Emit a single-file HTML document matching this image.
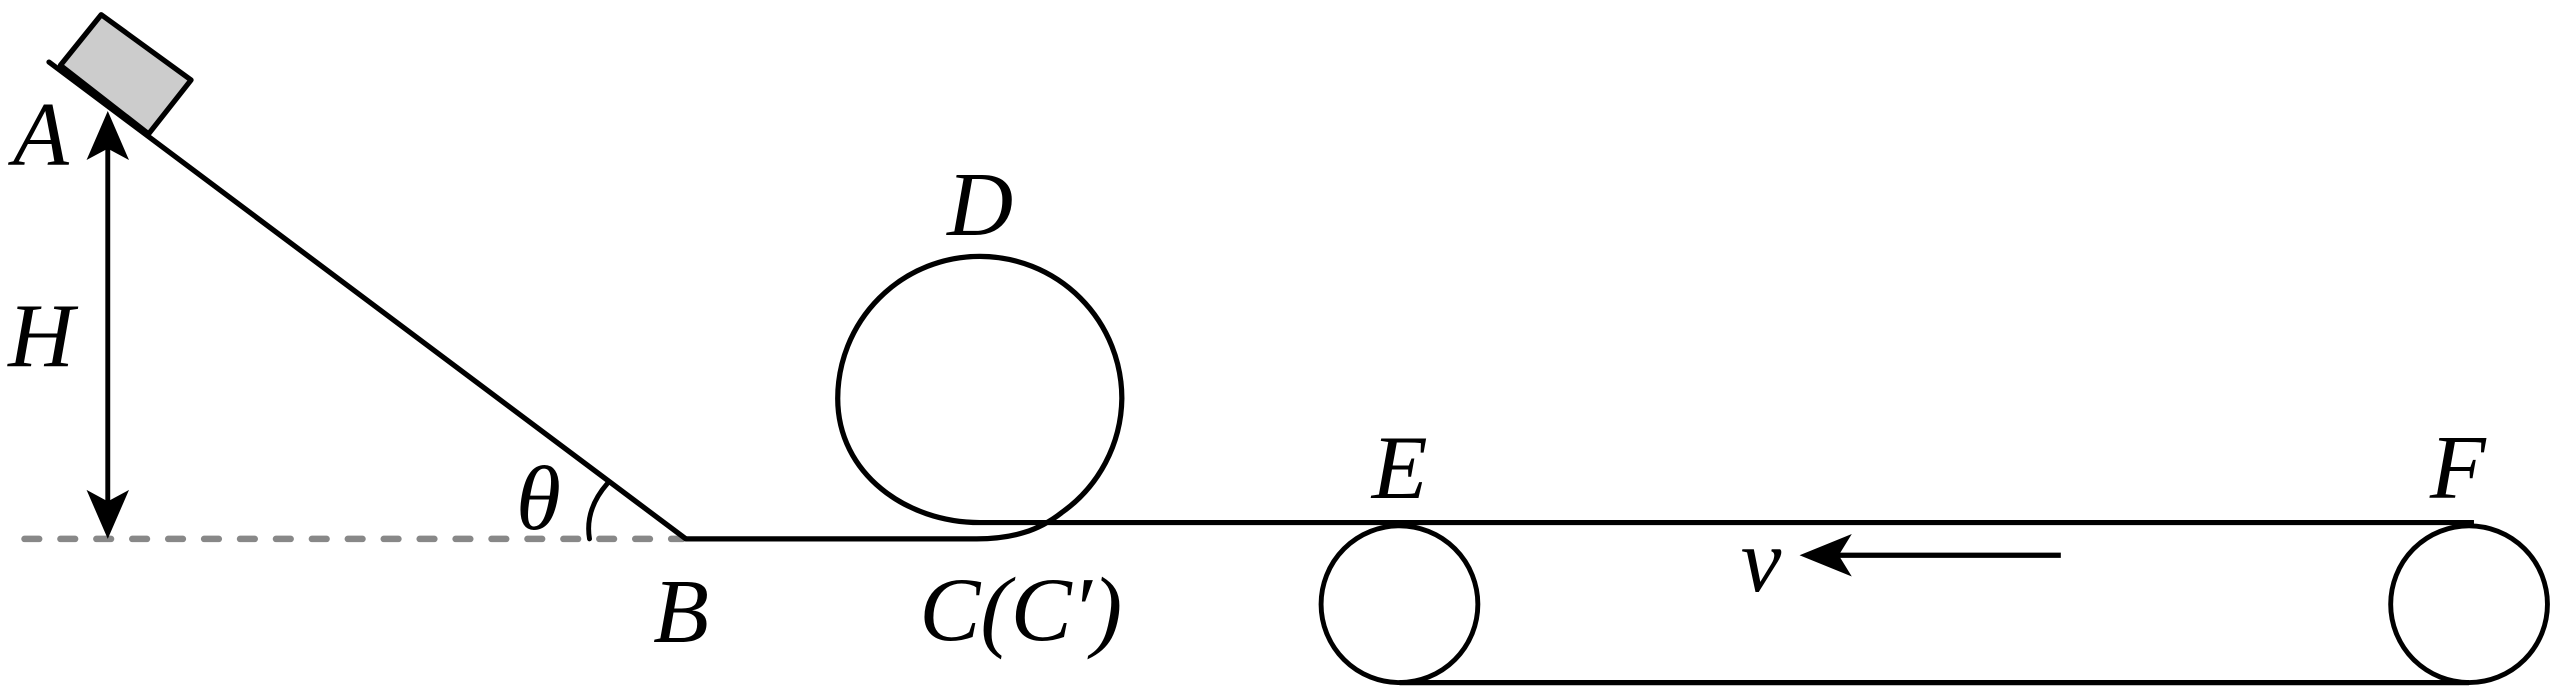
<!DOCTYPE html>
<html><head><meta charset="utf-8"><style>
html,body{margin:0;padding:0;background:#fff;}
svg{display:block;}
text{font-family:"Liberation Serif",serif;font-style:italic;font-size:56px;fill:#000;}
</style></head><body>
<svg width="2553" height="695" viewBox="0 0 1563.4 425.6" preserveAspectRatio="none" xmlns="http://www.w3.org/2000/svg">
<line x1="15" y1="330" x2="418" y2="330" stroke="#888" stroke-width="4" stroke-linecap="round" stroke-dasharray="9 13"/>
<polygon points="37,40 62,9 117,49 91,82" fill="#ccc" stroke="#000" stroke-width="3.2" stroke-linejoin="round"/>
<line x1="30" y1="38" x2="420" y2="330" stroke="#000" stroke-width="3.2" stroke-linecap="round"/>
<line x1="66" y1="90" x2="66" y2="308" stroke="#000" stroke-width="3"/>
<polygon points="66,68 79,98 66,91 53,98" fill="#000"/>
<polygon points="66,330 79,300 66,307 53,300" fill="#000"/>
<path d="M372,296 Q358,312 361,330" fill="none" stroke="#000" stroke-width="3" stroke-linecap="round"/>
<path d="M420,330 L598,330 C620,330 636,325 650,314 A87,87 0 0 0 687,244 A87,87 0 0 0 513,244 C513,290 555,320 600,320 L1515,320" fill="none" stroke="#000" stroke-width="3.2"/>
<circle cx="857" cy="370" r="48" fill="none" stroke="#000" stroke-width="3"/>
<circle cx="1512" cy="370" r="48" fill="none" stroke="#000" stroke-width="3"/>
<line x1="857" y1="418" x2="1512" y2="418" stroke="#000" stroke-width="3.2"/>
<line x1="1125" y1="340" x2="1262" y2="340" stroke="#000" stroke-width="3.2"/>
<polygon points="1102,340 1134,327 1126,340 1134,353" fill="#000"/>
<text x="8" y="101">A</text>
<text x="5" y="224">H</text>
<text x="580" y="144">D</text>
<text x="316" y="324">θ</text>
<text x="400" y="393">B</text>
<text x="563" y="392">C(C′)</text>
<text x="840" y="305">E</text>
<text x="1488" y="305">F</text>
<text x="1066" y="362">v</text>
</svg>
</body></html>
